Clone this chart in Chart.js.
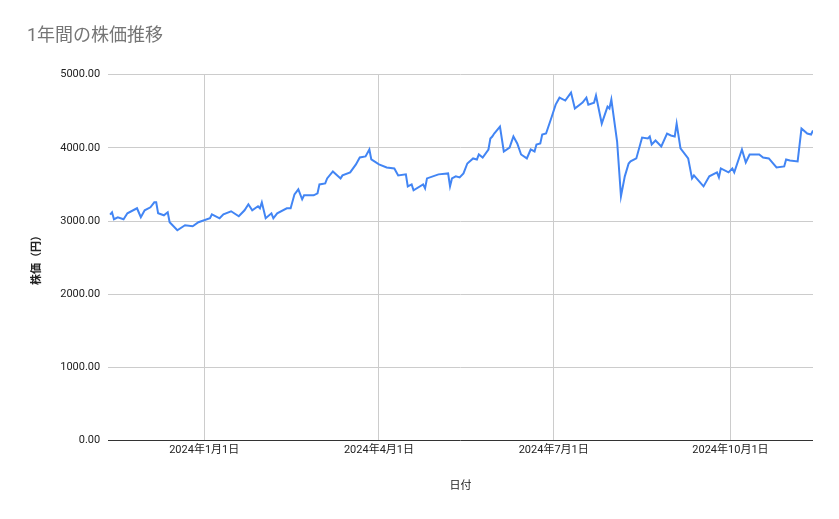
<!DOCTYPE html>
<html><head><meta charset="utf-8">
<script src="https://cdn.jsdelivr.net/npm/chart.js@4"></script>
<style>html,body{margin:0;padding:0;background:#fff}#w{width:839px;height:519px}</style>
</head><body><div id="w"><canvas id="c"></canvas></div>
<script>
// days since 2024-01-01
const days = [-49,-48,-47,-45,-42,-40,-35,-33,-31,-28,-26,-25,-24,-21,-19,-18,-14,-10,-6,-3,3,4,8,10,14,18,21,23,25,28,29,30,32,35,36,38,43,45,47,49,51,52,57,59,60,63,64,67,71,72,76,79,81,84,86,87,91,95,99,101,105,106,108,109,114,115,116,122,127,128,129,131,133,135,137,140,142,143,145,148,149,150,151,154,156,159,161,163,165,168,170,172,173,175,176,178,181,183,185,188,191,193,197,199,200,203,204,207,210,211,212,215,217,219,221,222,225,228,231,232,233,235,238,241,243,245,246,248,252,254,255,260,263,267,268,269,273,275,276,280,282,284,289,291,294,298,302,303,305,309,311,314,316,317];
const prices = [3087,3119,3024,3051,3024,3105,3174,3051,3146,3187,3255,3255,3105,3078,3119,2983,2874,2942,2928,2983,3037,3092,3037,3092,3133,3064,3146,3228,3146,3201,3174,3255,3037,3105,3037,3105,3174,3174,3364,3432,3296,3351,3351,3378,3500,3514,3582,3677,3582,3623,3664,3773,3868,3882,3977,3841,3773,3732,3718,3623,3637,3473,3500,3419,3500,3446,3582,3637,3650,3473,3582,3610,3596,3650,3786,3855,3841,3909,3868,3977,4127,4154,4195,4290,3950,4004,4154,4059,3909,3855,3977,3950,4045,4059,4181,4195,4427,4590,4685,4645,4754,4536,4617,4685,4590,4617,4713,4331,4563,4536,4658,4086,3337,3610,3786,3814,3855,4140,4127,4154,4045,4100,4018,4195,4168,4154,4331,3991,3855,3582,3623,3473,3610,3664,3596,3718,3664,3718,3664,3977,3800,3909,3909,3868,3855,3732,3746,3841,3827,3814,4263,4195,4181,4236];
const tickDays = [0,91,182,274];
const tickLabels = ['2024年1月1日','2024年4月1日','2024年7月1日','2024年10月1日'];
const yTicks = [0,1000,2000,3000,4000,5000];
const F = "Roboto, 'Noto Sans CJK JP', sans-serif";
new Chart(document.getElementById('c'), {
  type:'line',
  data:{datasets:[{data:days.map((d,i)=>({x:d,y:prices[i]})),borderColor:'#4285f4',borderWidth:2,pointRadius:0,tension:0}]},
  options:{
    responsive:true,maintainAspectRatio:false,animation:false,
    layout:{padding:{left:27,right:26,top:10,bottom:22}},
    plugins:{legend:{display:false},tooltip:{enabled:false},
      title:{display:true,text:'1年間の株価推移',align:'start',color:'#757575',font:{family:F,size:18,weight:'normal'},padding:{top:16,bottom:27}}},
    scales:{
      x:{type:'linear',min:-50,max:317,
        afterBuildTicks:a=>{a.ticks=tickDays.map(v=>({value:v}));},
        ticks:{autoSkip:false,maxRotation:0,color:'#222',font:{family:F,size:11},callback:v=>tickLabels[tickDays.indexOf(v)]},
        grid:{color:'#cccccc',drawTicks:false},border:{display:false},
        title:{display:true,text:'日付',color:'#222',font:{family:F,size:11},padding:{top:20}}},
      y:{min:0,max:5000,
        afterBuildTicks:a=>{a.ticks=yTicks.map(v=>({value:v}));},
        ticks:{color:'#222',font:{family:F,size:11},padding:8,callback:v=>v.toFixed(2)},
        grid:{color:c=>c.tick&&c.tick.value===0?'#333':'#cccccc',drawTicks:false},border:{display:false},
        title:{display:true,text:'株価（円）',color:'#222',font:{family:F,size:11,weight:'bold'},padding:{bottom:8}}}
    }
  }
});
</script></body></html>
